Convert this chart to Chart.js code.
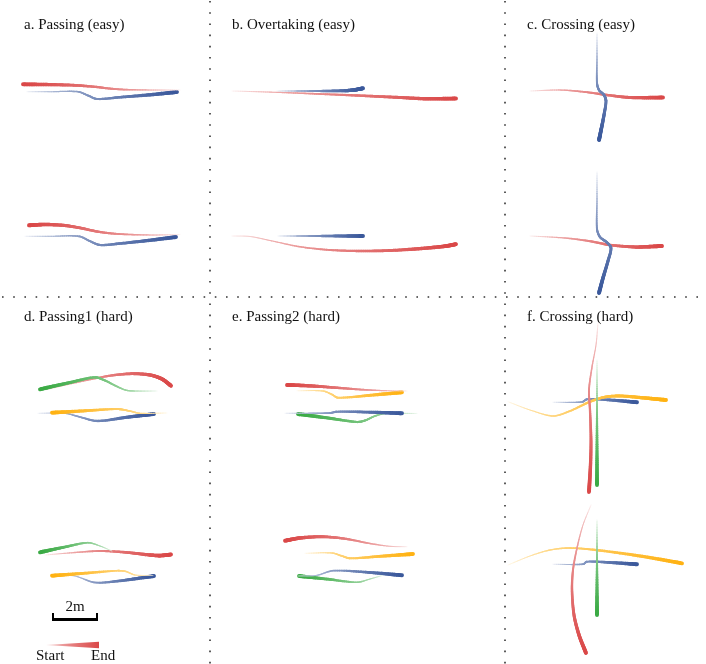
<!DOCTYPE html>
<html><head><meta charset="utf-8">
<script src="https://cdn.jsdelivr.net/npm/chart.js@4"></script>
<style>html,body{margin:0;padding:0;background:#fff}#wrap{width:706px;height:664px;position:relative}</style>
</head><body><div id="wrap"><canvas id="c"></canvas></div>
<script>
// ---- Panel titles ----
const panelTitles = ['a. Passing (easy)', 'b. Overtaking (easy)', 'c. Crossing (easy)',
                     'd. Passing1 (hard)', 'e. Passing2 (hard)', 'f. Crossing (hard)'];
const scaleLabel = '2m';
const scaleLengthM = 2;
const legendLabels = ['Start', 'End'];

// ---- Trajectories (start -> end), figure units ----
// a. Passing (easy)
const aTopRed  = [[180,90],[150,90],[125,89.6],[110,88.6],[95,86.8],[75,85.3],[50,84.6],[23,84.3]];
const aTopBlue = [[27,91.7],[50,91.7],[78,91.7],[88,95.5],[97,99],[120,97.2],[150,94.8],[177,92]];
const aBotRed  = [[180,234.5],[155,235],[132,234.6],[112,233.5],[97,231.5],[82,228.3],[65,225.5],[45,224.5],[29,225.3]];
const aBotBlue = [[25,236.3],[50,236.3],[79,236.3],[90,241.2],[100,245],[120,243.5],[148,240.5],[176,237]];
// b. Overtaking (easy)
const bTopRed  = [[232,91],[260,91.8],[290,92.8],[320,94],[350,95.2],[375,96.3],[400,97.5],[427,98.8],[456,98.5]];
const bTopBlue = [[277,91],[300,91],[325,91],[345,90.7],[355,89.8],[363,88.3]];
const bBotRed  = [[232,236],[250,236.5],[270,240.5],[300,246.8],[330,250],[360,251],[390,250.5],[420,248.6],[445,246.2],[456,244.2]];
const bBotBlue = [[278,236],[300,236],[320,236],[342,236],[363,236]];
// c. Crossing (easy)
const cTopBlue = [[597,33],[597,58],[597,83],[599,90],[604,95],[606,101],[604,115],[601.5,128],[599,140]];
const cTopRed  = [[530,91],[560,90],[585,92],[607,95],[630,97.5],[663,97.5]];
const cBotBlue = [[597,172],[597,200],[597,229],[600,237],[607,242.5],[611,248],[608,261],[603,278],[599,293]];
const cBotRed  = [[530,236],[565,238],[590,241.2],[610,245],[635,247],[650,246.6],[662,246]];
// d. Passing1 (hard)
const dTopGreen  = [[157,391],[135,391],[126,390.2],[116,386],[105,380.5],[95,377.3],[70,382.5],[40,389.3]];
const dTopRed    = [[45,390],[70,384],[97,378],[115,375],[133,373.7],[150,375],[162,379],[171,385.7]];
const dTopOrange = [[167,413],[140,413.3],[131,411.3],[122,409.5],[115,409],[85,410.8],[52,412.7]];
const dTopBlue   = [[38,413.3],[65,413.3],[80,417],[97,421],[125,417.5],[154,414]];
const dBotGreen  = [[112,551],[100,546],[88,542.7],[65,547],[40,552.3]];
const dBotRed    = [[45,555],[75,552.5],[100,551],[125,552.3],[150,555],[160,555.6],[171,554.5]];
const dBotOrange = [[153,575.5],[135,575],[126,571.5],[118,570.7],[85,573.2],[52,575.7]];
const dBotBlue   = [[62,575.3],[75,576],[95,582.5],[120,580.8],[154,576]];
// e. Passing2 (hard)
const eTopRed    = [[407,391],[380,390.5],[360,389.5],[340,388],[320,386.5],[303,385.5],[287,385]];
const eTopOrange = [[297,390.7],[323,391],[332,394.5],[338,397.7],[370,395.3],[402,392.3]];
const eTopBlue   = [[285,413.3],[310,413.2],[330,413],[337,411.7],[370,412.2],[402,413.3]];
const eTopGreen  = [[417,413.5],[385,413.5],[375,416],[365,420.5],[357,422],[328,418],[298,414]];
const eBotRed    = [[407,546.7],[390,546.3],[370,543.5],[350,539.5],[335,537.5],[320,536.7],[300,538],[285,540.7]];
const eBotOrange = [[305,553.3],[332,553],[342,556],[350,558.3],[380,556.3],[413,554]];
const eBotBlue   = [[298,576],[317,575.3],[333,570.7],[370,572.5],[402,575.3]];
const eBotGreen  = [[383,575.3],[370,579],[357,582.3],[328,579.2],[299,576]];
// f. Crossing (hard)
const fTopRed    = [[598,323],[596,345],[592,367],[589,390],[590,410],[591,440],[590.5,465],[589,492]];
const fTopGreen  = [[597,360],[597,390],[597,420],[597,455],[597,485]];
const fTopOrange = [[508,401.7],[530,410],[553,416],[570,411],[590,401.7],[605,397],[620,396],[645,398],[666,400]];
const fTopBlue   = [[553,402.3],[582,402],[587,399.3],[610,400],[637,402.3]];
const fBotRed    = [[591,505],[583,525],[577,548],[573,570],[572,590],[574,615],[579,635],[586,653]];
const fBotGreen  = [[597,520],[597,545],[597,570],[597,595],[597,615]];
const fBotOrange = [[508,565],[530,556],[550,550],[570,548],[600,550.5],[640,556],[682,563.3]];
const fBotBlue   = [[553,564.3],[583,564.2],[587,561.7],[610,562.5],[637,564.3]];

// ---- styling ----
const RED = [218,72,72], BLUE = [58,88,155], GREEN = [58,170,68], ORANGE = [255,178,18];
const PX_PER_M = 23;
const W0 = 0.5, W1 = 3.9;

function mix(c, t) {
  const a = 0.08 + 0.92 * Math.pow(t, 0.55);
  const r = Math.round(255 + (c[0]-255)*a), g = Math.round(255 + (c[1]-255)*a), b = Math.round(255 + (c[2]-255)*a);
  return `rgb(${r},${g},${b})`;
}

function traj(pts, color) {
  return {
    data: pts.map(p => ({x: p[0], y: p[1]})),
    rgb: color,
    borderColor: mix(color, 1),
    borderWidth: W1,
    borderCapStyle: 'round',
    pointRadius: 0,
    pointHoverRadius: 0,
    tension: 0.3,
    fill: false,
    showLine: true
  };
}

const trajectories = [
  [aTopRed, RED], [aTopBlue, BLUE], [aBotRed, RED], [aBotBlue, BLUE],
  [bTopBlue, BLUE], [bTopRed, RED], [bBotBlue, BLUE], [bBotRed, RED],
  [cTopBlue, BLUE], [cTopRed, RED], [cBotBlue, BLUE], [cBotRed, RED],
  [dTopGreen, GREEN], [dTopRed, RED], [dTopOrange, ORANGE], [dTopBlue, BLUE],
  [dBotGreen, GREEN], [dBotRed, RED], [dBotOrange, ORANGE], [dBotBlue, BLUE],
  [eTopRed, RED], [eTopOrange, ORANGE], [eTopBlue, BLUE], [eTopGreen, GREEN],
  [eBotRed, RED], [eBotOrange, ORANGE], [eBotBlue, BLUE], [eBotGreen, GREEN],
  [fTopGreen, GREEN], [fTopRed, RED], [fTopOrange, ORANGE], [fTopBlue, BLUE],
  [fBotGreen, GREEN], [fBotRed, RED], [fBotOrange, ORANGE], [fBotBlue, BLUE]
];

const SERIF = '"Liberation Serif", "Times New Roman", serif';

function bez(p0, c1, c2, p1, t) {
  const u = 1 - t;
  return [u*u*u*p0[0] + 3*u*u*t*c1[0] + 3*u*t*t*c2[0] + t*t*t*p1[0],
          u*u*u*p0[1] + 3*u*u*t*c1[1] + 3*u*t*t*c2[1] + t*t*t*p1[1]];
}

// Stroke each line element along the library's own bezier path, tapering width and colour
const taper = {
  id: 'taper',
  beforeDatasetDraw(chart, args) {
    const meta = args.meta;
    const ds = chart.data.datasets[args.index];
    const els = meta.data;
    if (!els || els.length < 2) return true;
    const path = [];
    for (let i = 0; i < els.length - 1; i++) {
      const a = els[i], b = els[i+1];
      const p0 = [a.x, a.y], p1 = [b.x, b.y];
      const c1 = [a.cp2x ?? a.x, a.cp2y ?? a.y], c2 = [b.cp1x ?? b.x, b.cp1y ?? b.y];
      const N = 16;
      for (let k = (i === 0 ? 0 : 1); k <= N; k++) path.push(bez(p0, c1, c2, p1, k / N));
    }
    const cum = [0];
    for (let i = 1; i < path.length; i++) cum.push(cum[i-1] + Math.hypot(path[i][0]-path[i-1][0], path[i][1]-path[i-1][1]));
    const total = cum[cum.length-1] || 1;
    const ctx = chart.ctx;
    ctx.save();
    ctx.lineCap = 'round';
    for (let i = 1; i < path.length; i++) {
      const t = (cum[i-1] + cum[i]) / 2 / total;
      ctx.strokeStyle = mix(ds.rgb, t);
      ctx.lineWidth = W0 + (W1 - W0) * t;
      ctx.beginPath();
      ctx.moveTo(path[i-1][0], path[i-1][1]);
      ctx.lineTo(path[i][0], path[i][1]);
      ctx.stroke();
    }
    ctx.restore();
    return false;
  }
};

const decor = {
  id: 'decor',
  beforeDatasetsDraw(chart) {
    const {ctx, scales: {x, y}} = chart;
    ctx.save();
    ctx.strokeStyle = '#333';
    ctx.lineWidth = 1.6;
    ctx.setLineDash([1.6, 9.6]);
    [210, 505].forEach(v => {
      ctx.beginPath();
      ctx.moveTo(x.getPixelForValue(v), y.getPixelForValue(1));
      ctx.lineTo(x.getPixelForValue(v), y.getPixelForValue(664));
      ctx.stroke();
    });
    ctx.beginPath();
    ctx.moveTo(x.getPixelForValue(2), y.getPixelForValue(297));
    ctx.lineTo(x.getPixelForValue(706), y.getPixelForValue(297));
    ctx.stroke();
    ctx.restore();
  },
  afterDatasetsDraw(chart) {
    const {ctx, scales: {x, y}} = chart;
    ctx.save();
    ctx.fillStyle = '#111';
    ctx.font = '15px ' + SERIF;
    ctx.textBaseline = 'alphabetic';
    const tpos = [[24,29],[232,29],[527,29],[24,321],[232,321],[527,321]];
    panelTitles.forEach((t, i) => {
      ctx.textAlign = 'left';
      ctx.fillText(t, x.getPixelForValue(tpos[i][0]), y.getPixelForValue(tpos[i][1]));
    });
    const x0 = x.getPixelForValue(52), x1 = x.getPixelForValue(52 + scaleLengthM * PX_PER_M);
    const yb = y.getPixelForValue(619.5);
    ctx.fillStyle = '#000';
    ctx.fillRect(x0, yb - 1.5, x1 - x0, 3);
    ctx.fillRect(x0, yb - 6.5, 2, 8);
    ctx.fillRect(x1 - 2, yb - 6.5, 2, 8);
    ctx.textAlign = 'center';
    ctx.fillStyle = '#111';
    ctx.fillText(scaleLabel, (x0 + x1) / 2, y.getPixelForValue(611));
    const lx0 = x.getPixelForValue(46), lx1 = x.getPixelForValue(99), ly = y.getPixelForValue(645);
    const g = ctx.createLinearGradient(lx0, 0, lx1, 0);
    g.addColorStop(0, mix(RED, 0.05));
    g.addColorStop(0.5, mix(RED, 0.5));
    g.addColorStop(1, mix(RED, 1));
    ctx.fillStyle = g;
    ctx.beginPath();
    ctx.moveTo(lx0, ly);
    ctx.lineTo(lx1, ly - 3.2);
    ctx.lineTo(lx1, ly + 3.2);
    ctx.closePath();
    ctx.fill();
    ctx.fillStyle = '#111';
    ctx.textAlign = 'left';
    ctx.fillText(legendLabels[0], x.getPixelForValue(36), y.getPixelForValue(660));
    ctx.fillText(legendLabels[1], x.getPixelForValue(91), y.getPixelForValue(660));
    ctx.restore();
  }
};

new Chart(document.getElementById('c'), {
  type: 'scatter',
  data: { datasets: trajectories.map(([p, c]) => traj(p, c)) },
  options: {
    responsive: true,
    maintainAspectRatio: false,
    animation: false,
    layout: { padding: 0 },
    plugins: { legend: { display: false }, tooltip: { enabled: false }, title: { display: false } },
    events: [],
    scales: {
      x: { type: 'linear', min: 0, max: 706, display: false },
      y: { type: 'linear', min: 0, max: 664, reverse: true, display: false }
    }
  },
  plugins: [decor, taper]
});
</script></body></html>
